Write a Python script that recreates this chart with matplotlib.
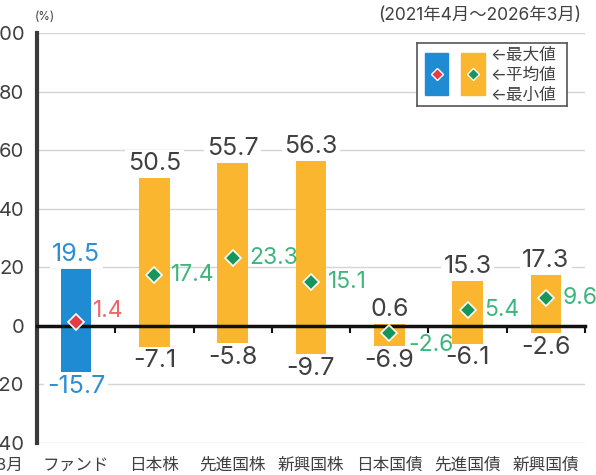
import matplotlib
matplotlib.use("Agg")
import matplotlib.pyplot as plt
from matplotlib.patches import Rectangle
from matplotlib.transforms import blended_transform_factory

plt.rcParams['font.family'] = ['Inter', 'DejaVu Sans', 'Noto Sans CJK JP']

# data (%), 2021/4 - 2026/3
categories = ['ファンド', '日本株', '先進国株', '新興国株', '日本国債', '先進国債', '新興国債']
max_vals = [19.5, 50.5, 55.7, 56.3, 0.6, 15.3, 17.3]
mean_vals = [1.4, 17.4, 23.3, 15.1, -2.6, 5.4, 9.6]
min_vals = [-15.7, -7.1, -5.8, -9.7, -6.9, -6.1, -2.6]
yticks = [-40, -20, 0, 20, 40, 60, 80, 100]

BLUE = '#1f8bd3'
ORANGE = '#fbb630'
GREEN_TXT = '#3cb67a'
GREEN_MK = '#15965a'
RED_MK = '#e63b44'
RED_TXT = '#f0646a'
BLUE_TXT = '#2c8fd6'
GRAY_TXT = '#404040'

fig = plt.figure(figsize=(5.96, 4.75), dpi=100)
ax = fig.add_axes([37 / 596, 32 / 475, 548 / 596, 410 / 475])

x = range(len(categories))
colors = [BLUE] + [ORANGE] * (len(categories) - 1)
heights = [hi - lo for hi, lo in zip(max_vals, min_vals)]
ax.bar(x, heights, bottom=min_vals, width=0.39, color=colors, zorder=1)

# mean markers
for i, m in enumerate(mean_vals):
    mk = RED_MK if i == 0 else GREEN_MK
    ax.plot(i, m, marker='D', ms=8, color=mk, mec='white', mew=1.2,
            zorder=7, ls='none')

bb = dict(boxstyle='square,pad=0.1', fc='white', ec='none')

# labels
for i in x:
    tc = BLUE_TXT if i == 0 else GRAY_TXT
    ax.annotate(f'{max_vals[i]:.1f}', (i, max_vals[i]), xytext=(0, 2),
                textcoords='offset points', ha='center', va='bottom',
                fontsize=18, color=tc, bbox=bb, zorder=5)
    ax.annotate(f'{min_vals[i]:.1f}', (i, min_vals[i]), xytext=(0, -2),
                textcoords='offset points', ha='center', va='top',
                fontsize=18, color=tc, bbox=bb, zorder=5)

nudge = {0: 8, 4: -8}
for i, m in enumerate(mean_vals):
    mc = RED_TXT if i == 0 else GREEN_TXT
    dx = 14 if i == 4 else 12
    ax.annotate(f'{m:.1f}', (i, m), xytext=(dx, nudge.get(i, 0)),
                textcoords='offset points', ha='left', va='center',
                fontsize=16.5, color=mc, zorder=6)

# axes styling
ax.set_xlim(-0.5, len(categories) - 0.5)
ax.set_ylim(-40, 100)
ax.set_yticks(yticks)
ax.set_yticklabels([str(v).replace('-', '\u2212') for v in yticks])
ax.tick_params(axis='y', length=0, pad=9, labelsize=14.5, labelcolor=GRAY_TXT)
ax.yaxis.grid(True, color='#d4d4d4', lw=1)
ax.set_axisbelow(True)

ax.spines['top'].set_visible(False)
ax.spines['right'].set_visible(False)
ax.spines['left'].set_color('#3a3a3a')
ax.spines['left'].set_linewidth(3)
ax.spines['bottom'].set_position(('data', 0))
ax.spines['bottom'].set_linewidth(2.5)
ax.spines['bottom'].set_color('#111111')
ax.spines['bottom'].set_zorder(3)

ax.set_xticks([i + 0.5 for i in x])
ax.set_xticklabels([])
ax.tick_params(axis='x', length=5, width=1.5, direction='out', color='#111111')

trans = blended_transform_factory(ax.transData, ax.transAxes)
for i, c in enumerate(categories):
    ax.annotate(c, (i, 0), xycoords=trans, xytext=(0, -16),
                textcoords='offset points', ha='center', va='center',
                fontsize=12, color=GRAY_TXT)
ax.annotate('2026年3月', (0, 0), xycoords='figure pixels', xytext=(24, 10),
            textcoords='figure pixels', ha='right', va='center',
            fontsize=12, color=GRAY_TXT)

fig.text(35 / 596, 1 - 17 / 475, '(%)', fontsize=8.5, color=GRAY_TXT,
         ha='left', va='center')
fig.text(581 / 596, 1 - 16 / 475, '(2021年4月～2026年3月)', fontsize=12.5,
         color=GRAY_TXT, ha='right', va='center')

# legend box
lg = fig.add_axes([417 / 596, 1 - 106 / 475, 150 / 596, 63 / 475])
lg.set_xlim(0, 150)
lg.set_ylim(63, 0)
lg.set_xticks([])
lg.set_yticks([])
for s in lg.spines.values():
    s.set_color('#555555')
    s.set_linewidth(1.2)
lg.add_patch(Rectangle((8, 10), 23, 42, color=BLUE))
lg.add_patch(Rectangle((44, 10), 24, 42, color=ORANGE))
lg.plot(19.5, 31, marker='D', ms=6, color=RED_MK, mec='white', mew=1)
lg.plot(56, 31, marker='D', ms=6, color=GREEN_MK, mec='white', mew=1)
for yy, t in zip([12, 32, 52], ['←最大値', '←平均値', '←最小値']):
    lg.text(73, yy, t, fontsize=12, color=GRAY_TXT, ha='left', va='center')

fig.savefig('out.png', dpi=100)
